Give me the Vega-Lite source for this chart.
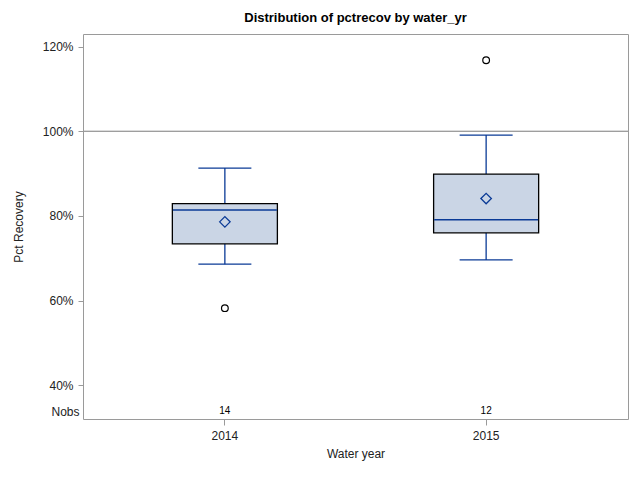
{
  "$schema": "https://vega.github.io/schema/vega-lite/v6.json",
  "width": 545,
  "height": 385,
  "autosize": "none",
  "padding": {"left": 83, "top": 34, "right": 12, "bottom": 61},
  "background": "white",
  "title": {"text": "Distribution of pctrecov by water_yr", "fontSize": 13, "fontWeight": "bold", "font": "Liberation Sans", "color": "#000000", "offset": 9, "anchor": "middle"},
  "config": {
    "view": {"stroke": "#9a9a9a", "strokeWidth": 1},
    "font": "Liberation Sans",
    "axis": {"labelFont": "Liberation Sans", "titleFont": "Liberation Sans", "labelFontSize": 12, "titleFontSize": 12, "labelColor": "#222222", "titleColor": "#222222", "tickColor": "#9a9a9a", "domain": false, "grid": false, "titleFontWeight": "normal"}
  },
  "datasets": {
    "stats": [
      {"year": "2014", "lo": 68.6, "q1": 73.4, "median": 81.4, "q3": 82.9, "hi": 91.3, "mean": 78.6, "n": 14},
      {"year": "2015", "lo": 69.6, "q1": 76.0, "median": 79.1, "q3": 89.9, "hi": 99.1, "mean": 84.1, "n": 12}
    ],
    "outliers": [
      {"year": "2014", "value": 58.2},
      {"year": "2015", "value": 116.8}
    ]
  },
  "data": {"name": "stats"},
  "layer": [
    {
      "mark": {"type": "rule", "color": "#9a9a9a", "strokeWidth": 1},
      "encoding": {
        "y": {"datum": 100, "type": "quantitative", "title": "Pct Recovery",
              "scale": {"domain": [32, 123], "nice": false, "zero": false},
              "axis": {"values": [40, 60, 80, 100, 120, 33.8], "tickSize": 5, "labelPadding": {"condition": {"test": "datum.value < 39", "value": -1}, "value": 5},
                       "tickOpacity": {"condition": {"test": "datum.value < 39", "value": 0}, "value": 1},
                       "labelExpr": "datum.value < 39 ? 'Nobs' : datum.value + '%'", "titlePadding": 17}}
      }
    },
    {
      "mark": {"type": "rule", "color": "#0A3A96", "strokeWidth": 1.3},
      "encoding": {
        "x": {"field": "year", "type": "nominal", "scale": {"paddingInner": 0.598, "paddingOuter": 0.342}, "title": "Water year",
              "axis": {"labelAngle": 0, "tickSize": 6, "labelPadding": 5, "titlePadding": 7}},
        "y": {"field": "lo", "type": "quantitative", "title": "Pct Recovery"},
        "y2": {"field": "q1"}
      }
    },
    {
      "mark": {"type": "rule", "color": "#0A3A96", "strokeWidth": 1.3},
      "encoding": {
        "x": {"field": "year", "type": "nominal"},
        "y": {"field": "q3", "type": "quantitative", "title": "Pct Recovery"},
        "y2": {"field": "hi"}
      }
    },
    {
      "mark": {"type": "tick", "color": "#0A3A96", "size": 53, "thickness": 1.3, "opacity": 1},
      "encoding": {
        "x": {"field": "year", "type": "nominal"},
        "y": {"field": "lo", "type": "quantitative", "title": "Pct Recovery"}
      }
    },
    {
      "mark": {"type": "tick", "color": "#0A3A96", "size": 53, "thickness": 1.3, "opacity": 1},
      "encoding": {
        "x": {"field": "year", "type": "nominal"},
        "y": {"field": "hi", "type": "quantitative", "title": "Pct Recovery"}
      }
    },
    {
      "mark": {"type": "bar", "fill": "#CAD5E5", "stroke": "#000000", "strokeWidth": 1.3},
      "encoding": {
        "x": {"field": "year", "type": "nominal"},
        "y": {"field": "q1", "type": "quantitative", "title": "Pct Recovery"},
        "y2": {"field": "q3"}
      }
    },
    {
      "mark": {"type": "tick", "color": "#0A3A96", "size": 104, "thickness": 1.3, "opacity": 1},
      "encoding": {
        "x": {"field": "year", "type": "nominal"},
        "y": {"field": "median", "type": "quantitative", "title": "Pct Recovery"}
      }
    },
    {
      "mark": {"type": "point", "shape": "diamond", "filled": false, "color": "#0A3A96", "size": 110, "strokeWidth": 1.3, "opacity": 1},
      "encoding": {
        "x": {"field": "year", "type": "nominal"},
        "y": {"field": "mean", "type": "quantitative", "title": "Pct Recovery"}
      }
    },
    {
      "data": {"name": "outliers"},
      "mark": {"type": "point", "shape": "circle", "filled": false, "color": "#000000", "size": 45, "strokeWidth": 1.2, "opacity": 1},
      "encoding": {
        "x": {"field": "year", "type": "nominal"},
        "y": {"field": "value", "type": "quantitative", "title": "Pct Recovery"}
      }
    },
    {
      "mark": {"type": "text", "fontSize": 10, "color": "#000000", "font": "Liberation Sans"},
      "encoding": {
        "x": {"field": "year", "type": "nominal"},
        "y": {"datum": 33.8, "type": "quantitative"},
        "text": {"field": "n", "type": "quantitative"}
      }
    }
  ]
}
